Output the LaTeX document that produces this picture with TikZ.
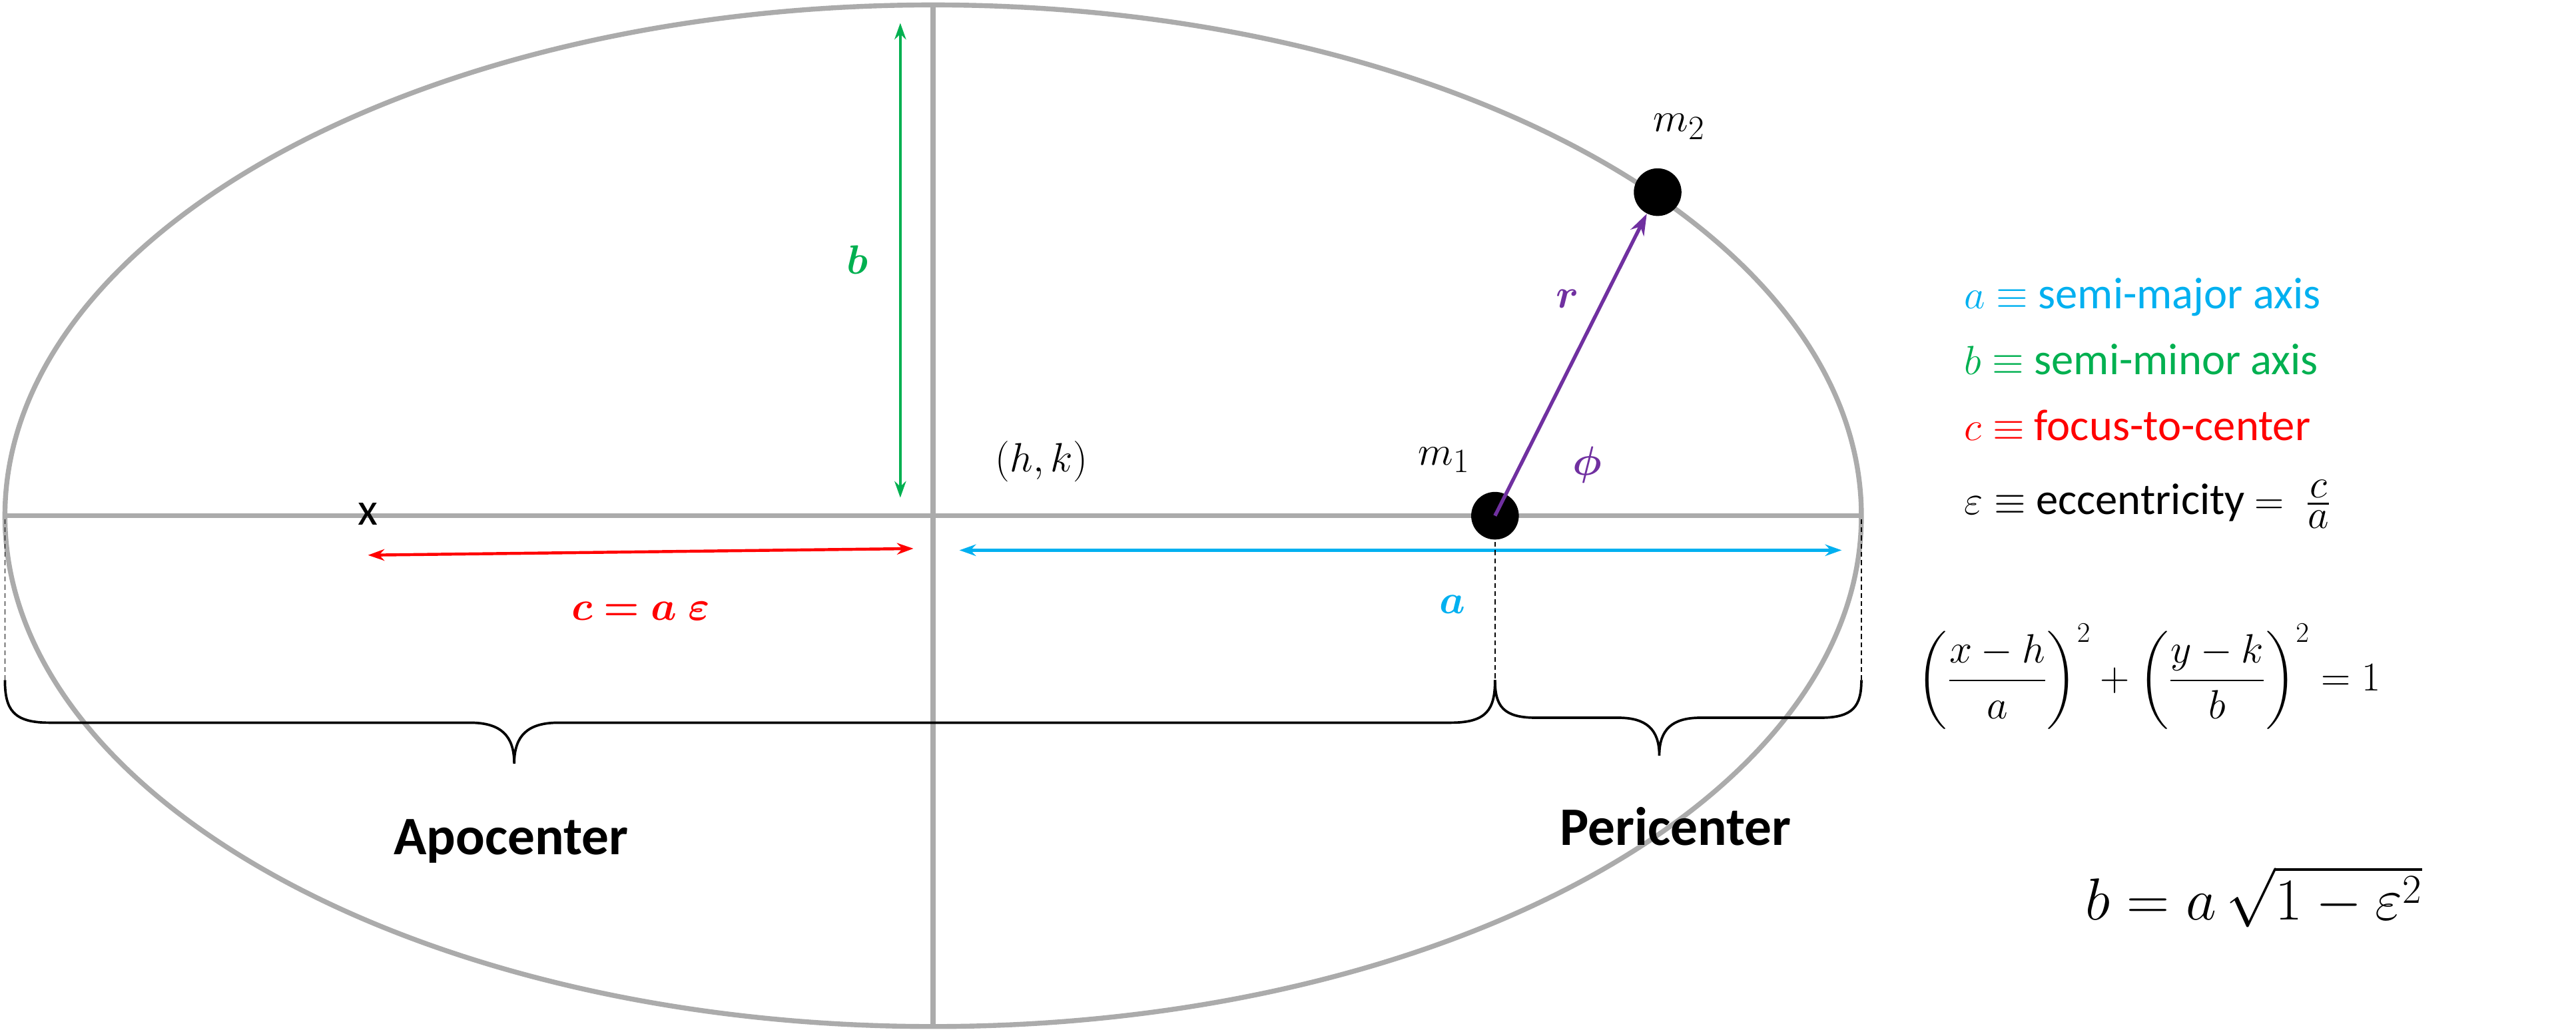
\documentclass[tikz,border=0pt]{standalone}
\usepackage{fontspec}
\setmainfont{Carlito}
\usepackage{amsmath,bm,graphicx}
\usetikzlibrary{arrows.meta,decorations.pathreplacing}
\definecolor{gax}{HTML}{ABABAB}
\definecolor{cgreen}{HTML}{00B050}
\definecolor{cblue}{HTML}{00B0F0}
\definecolor{cpurple}{HTML}{7030A0}
\tikzset{ax/.style={gax,line width=3pt},
dbl/.style={{Stealth[length=10pt,width=7pt]}-{Stealth[length=10pt,width=7pt]},line width=1.8pt},
lbl/.style={font=\fontsize{28}{32}\selectfont},
leg/.style={font=\fontsize{27}{32}\selectfont,anchor=west},
dot/.style={circle,fill=black,minimum size=29pt,inner sep=0pt},
dsh/.style={densely dashed,line width=0.7pt},
brc/.style={line width=1.5pt}}
\begin{document}
\begin{tikzpicture}[x=1pt,y=-1pt]
\useasboundingbox (0,0) rectangle (1568,628);
\draw[ax] (568,314) ellipse [x radius=565,y radius=-311];
\draw[ax] (3,314) -- (1133,314);
\draw[ax] (568,3) -- (568,625);
\coordinate (bt) at (548,14); \coordinate (bb) at (548,303);
\draw[dbl,cgreen] (bt) -- (bb);
\node[lbl,text=cgreen] (lb) at (522,158) {$\bm{b}$};
\node[lbl] (hk) at (634,281) {$(h,k)$};
\node[dot] (m1) at (910,314) {};
\node[dot] (m2) at (1009,117) {};
\node[lbl] (lm1) at (879,280) {$m_1$};
\node[lbl] (lm2) at (1022,77) {$m_2$};
\draw[cpurple,line width=2.2pt,-{Stealth[length=13pt,width=9pt]}] (m1.center) -- (m2);
\node[lbl,text=cpurple] (lr) at (954,182) {$\bm{r}$};
\node[lbl,text=cpurple] (lphi) at (966,283) {$\bm{\phi}$};
\node[lbl] (fx) at (224,313) {x};
\coordinate (c1) at (224,338); \coordinate (c2) at (556,334);
\draw[dbl,red] (c1) -- (c2);
\node[lbl,text=red] (lc) at (390,372) {$\bm{c=a\;\varepsilon}$};
\coordinate (a1) at (584,335); \coordinate (a2) at (1121,335);
\draw[dbl,cblue] (a1) -- (a2);
\node[lbl,text=cblue] (la) at (884,368) {$\bm{a}$};
\coordinate (d1) at (3,414); \coordinate (d2) at (910,414); \coordinate (d3) at (1133,414);
\draw[dsh] (3,316) -- (d1);
\draw[dsh] (910,330) -- (d2);
\draw[dsh] (1133,316) -- (d3);
\draw[brc] (d1) .. controls (3,432) and (8,440) .. (30,440) -- (286,440)
  .. controls (305,440) and (313,448) .. (313,465)
  .. controls (313,448) and (321,440) .. (340,440) -- (883,440)
  .. controls (905,440) and (910,432) .. (d2);
\draw[brc] (d2) .. controls (910,430) and (915,437) .. (935,437) -- (985,437)
  .. controls (1002,437) and (1010,444) .. (1010,460)
  .. controls (1010,444) and (1018,437) .. (1035,437) -- (1108,437)
  .. controls (1128,437) and (1133,430) .. (d3);
\node[font=\fontsize{33}{36}\selectfont\bfseries] (apo) at (311,512) {Apocenter};
\node[font=\fontsize{33}{36}\selectfont\bfseries] (peri) at (1020,503) {Pericenter};
\node[leg,text=cblue] (l1) at (1192,181) {$a\equiv$ semi-major axis};
\node[leg,text=cgreen] (l2) at (1192,219) {$b\equiv$ semi-minor axis};
\node[leg,text=red] (l3) at (1192,259) {$c\equiv$ focus-to-center};
\node[leg] (l4) at (1192,307) {$\varepsilon\equiv$ eccentricity $=\ \frac{\textstyle c}{\textstyle a}$};
\node[font=\fontsize{25}{30}\selectfont] (eq1) at (1308,412) {$\displaystyle\left(\frac{x-h}{a}\right)^2+\left(\frac{y-k}{b}\right)^2=1$};
\node[font=\fontsize{24}{30}\selectfont] (eq2) at (1372,546) {\scalebox{1.45}{$b=a\,\sqrt{1-\varepsilon^2}$}};
\end{tikzpicture}
\end{document}
